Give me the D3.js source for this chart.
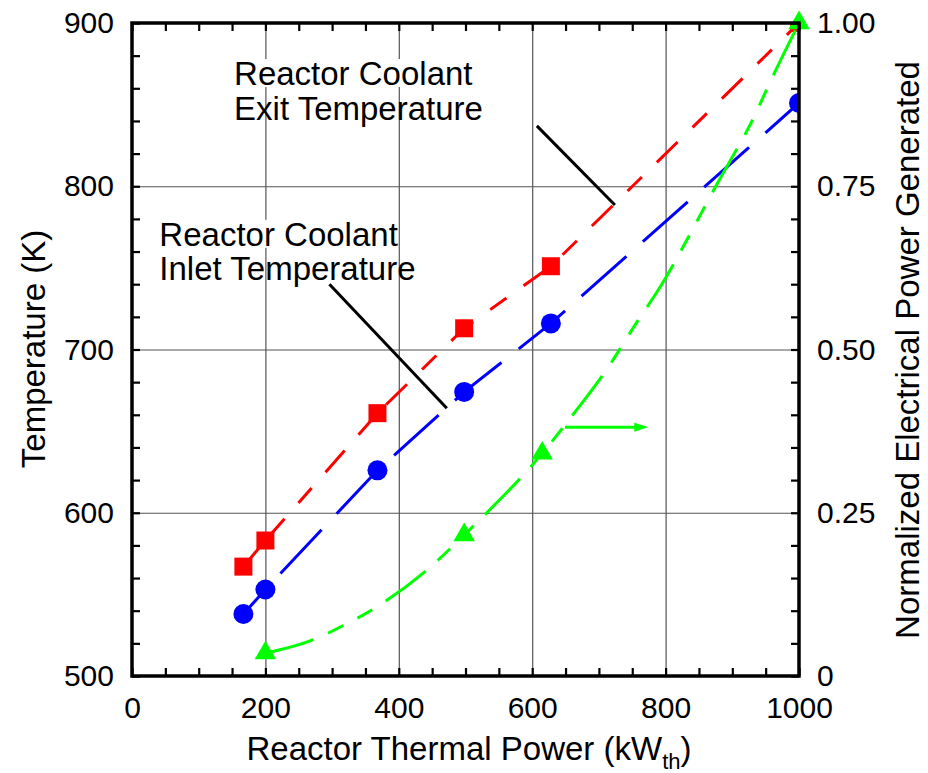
<!DOCTYPE html>
<html><head><meta charset="utf-8">
<script src="https://cdn.jsdelivr.net/npm/d3@7"></script>
<style>
body{margin:0;background:#fff}
text{font-family:"Liberation Sans",Arial,Helvetica,sans-serif;fill:#000}
</style>
</head><body>
<svg id="chart" width="928" height="773"></svg>
<script>
// ---------------- data ----------------
const exitPowerKW   = [167, 200, 368, 498, 628, 1000];
const exitTempK     = [567, 583, 661, 713, 751, 900];
const inletPowerKW  = [167, 200, 368, 498, 628, 1000];
const inletTempK    = [538, 553, 626, 674, 716, 851];
const elecPowerKW   = [200, 498, 615, 1000];
const elecNorm      = [0.035, 0.216, 0.341, 1.0];
// fitted curve of normalized electrical power
const elecCurveKW   = [200, 270, 316, 364, 454, 498, 615, 661, 714, 757, 787, 879, 930, 961, 1000];
const elecCurveNorm = [0.035, 0.055, 0.077, 0.104, 0.173, 0.216, 0.341, 0.400, 0.473, 0.542, 0.588, 0.757, 0.851, 0.919, 1.0];

const xTickValues  = [0, 200, 400, 600, 800, 1000];
const xGridValues  = [200, 400, 600, 800];
const yTickValues  = [500, 600, 700, 800, 900];
const yGridValues  = [600, 700, 800];
const y2TickValues = [0, 0.25, 0.5, 0.75, 1.0];
const y2TickLabels = ["0", "0.25", "0.50", "0.75", "1.00"];

// annotation anchors (data units)
const exitLabelLines  = ["Reactor Coolant", "Exit Temperature"];
const exitLabelPos    = [153, 862];
const exitLeader      = [[607, 837], [724, 788.5]];
const inletLabelLines = ["Reactor Coolant", "Inlet Temperature"];
const inletLabelPos   = [41, 763.5];
const inletLeader     = [[296, 740], [472, 664]];
const elecArrow       = [[649, 0.381], [774, 0.381]];

// ---------------- layout ----------------
const W = 928, H = 773;
const M = {left: 132, right: 129, top: 23, bottom: 97};
const svg = d3.select("#chart");
const x  = d3.scaleLinear().domain([0, 1000]).range([M.left, W - M.right]);
const yT = d3.scaleLinear().domain([500, 900]).range([H - M.bottom, M.top]);
const yP = d3.scaleLinear().domain([0, 1]).range([H - M.bottom, M.top]);
const pw = W - M.left - M.right, ph = H - M.top - M.bottom;

const RED = "#ff0000", BLUE = "#0000ff", GREEN = "#00ff00";
const FONT = '"Liberation Sans",Arial,sans-serif';

const defs = svg.append("defs");
defs.append("clipPath").attr("id", "plotclip")
  .append("rect").attr("x", M.left).attr("y", M.top).attr("width", pw).attr("height", ph);
defs.append("marker").attr("id", "arrowG").attr("viewBox", "0 0 14 9")
  .attr("refX", 1).attr("refY", 4.5).attr("markerUnits", "userSpaceOnUse")
  .attr("markerWidth", 14).attr("markerHeight", 9).attr("orient", "auto")
  .append("path").attr("d", "M0,0 L14,4.5 L0,9 Z").attr("fill", GREEN);

// ---------------- grid ----------------
const gx = svg.append("g").attr("transform", `translate(0,${M.top + ph})`)
  .call(d3.axisBottom(x).tickValues(xGridValues).tickSize(-ph).tickFormat(""));
const gy = svg.append("g").attr("transform", `translate(${M.left},0)`)
  .call(d3.axisLeft(yT).tickValues(yGridValues).tickSize(-pw).tickFormat(""));
[gx, gy].forEach(g => {
  g.select(".domain").remove();
  g.selectAll("line").attr("stroke", "#555").attr("stroke-width", 1.2);
});

// ---------------- annotation text (white backing on first line) ----------------
function label(lines, pos, gap) {
  const g = svg.append("g");
  const t0x = x(pos[0]), t0y = yT(pos[1]);
  lines.forEach((s, i) => {
    const t = g.append("text").attr("x", t0x).attr("y", t0y + i * gap)
      .attr("font-size", 33).text(s);
    if (i === 0) {
      const b = t.node().getBBox();
      g.insert("rect", "text").attr("x", b.x).attr("y", b.y + 4)
        .attr("width", b.width).attr("height", b.height - 9).attr("fill", "#fff");
    }
  });
}
label(exitLabelLines, exitLabelPos, 34.5);
label(inletLabelLines, inletLabelPos, 34.5);

// ---------------- lines ----------------
const plot = svg.append("g").attr("clip-path", "url(#plotclip)");
const lineT = d3.line().x(d => x(d[0])).y(d => yT(d[1]));
const lineP = d3.line().x(d => x(d[0])).y(d => yP(d[1])).curve(d3.curveMonotoneX);

const exitPts   = exitPowerKW.map((p, i) => [p, exitTempK[i]]);
const inletPts  = inletPowerKW.map((p, i) => [p, inletTempK[i]]);
const elecPts   = elecPowerKW.map((p, i) => [p, elecNorm[i]]);
const elecCurve = elecCurveKW.map((p, i) => [p, elecCurveNorm[i]]);

plot.append("path").attr("d", lineT(exitPts.slice(0, 2))).attr("fill", "none")
  .attr("stroke", RED).attr("stroke-width", 3);
plot.append("path").attr("d", lineT(exitPts.slice(1))).attr("fill", "none")
  .attr("stroke", RED).attr("stroke-width", 3).attr("stroke-dasharray", "29,21 20,21");
plot.append("path").attr("d", lineT(inletPts.slice(0, 2))).attr("fill", "none")
  .attr("stroke", BLUE).attr("stroke-width", 3);
plot.append("path").attr("d", lineT(inletPts.slice(1))).attr("fill", "none")
  .attr("stroke", BLUE).attr("stroke-width", 3).attr("stroke-dasharray", "60,22")
  .attr("stroke-dashoffset", 60);
svg.append("path").attr("d", lineP(elecCurve)).attr("fill", "none")
  .attr("stroke", GREEN).attr("stroke-width", 3).attr("stroke-dasharray", "50,16,17,16,17,16");

// ---------------- leaders / arrow ----------------
svg.append("line").attr("x1", x(exitLeader[0][0])).attr("y1", yT(exitLeader[0][1]))
  .attr("x2", x(exitLeader[1][0])).attr("y2", yT(exitLeader[1][1]))
  .attr("stroke", "#000").attr("stroke-width", 3);
svg.append("line").attr("x1", x(inletLeader[0][0])).attr("y1", yT(inletLeader[0][1]))
  .attr("x2", x(inletLeader[1][0])).attr("y2", yT(inletLeader[1][1]))
  .attr("stroke", "#000").attr("stroke-width", 3);
svg.append("line").attr("x1", x(elecArrow[0][0])).attr("y1", yP(elecArrow[0][1]))
  .attr("x2", x(elecArrow[1][0]) - 13).attr("y2", yP(elecArrow[1][1]))
  .attr("stroke", GREEN).attr("stroke-width", 3).attr("marker-end", "url(#arrowG)");

// ---------------- markers ----------------
plot.selectAll(".sq").data(exitPts).join("rect").attr("class", "sq")
  .attr("x", d => x(d[0]) - 9).attr("y", d => yT(d[1]) - 9)
  .attr("width", 18).attr("height", 18).attr("fill", RED);
plot.selectAll(".ci").data(inletPts).join("circle").attr("class", "ci")
  .attr("cx", d => x(d[0])).attr("cy", d => yT(d[1])).attr("r", 10).attr("fill", BLUE);
svg.selectAll(".tri").data(elecPts).join("path").attr("class", "tri")
  .attr("transform", d => `translate(${x(d[0])},${yP(d[1])})`)
  .attr("d", d3.symbol(d3.symbolTriangle, 200)()).attr("fill", GREEN);

// ---------------- minor ticks (inward) ----------------
function ticks(g) {
  g.select(".domain").remove();
  g.selectAll("line").attr("stroke", "#000").attr("stroke-width", 2.2);
}
svg.append("g").attr("transform", `translate(0,${M.top + ph})`)
  .call(d3.axisBottom(x).tickValues(x.ticks(20)).tickSizeInner(-8).tickSizeOuter(0).tickFormat("")).call(ticks);
svg.append("g").attr("transform", `translate(0,${M.top})`)
  .call(d3.axisTop(x).tickValues(x.ticks(20)).tickSizeInner(-8).tickSizeOuter(0).tickFormat("")).call(ticks);
svg.append("g").attr("transform", `translate(${M.left},0)`)
  .call(d3.axisLeft(yT).tickValues(yT.ticks(16)).tickSizeInner(-8).tickSizeOuter(0).tickFormat("")).call(ticks);
svg.append("g").attr("transform", `translate(${M.left + pw},0)`)
  .call(d3.axisRight(yP).tickValues(yP.ticks(20)).tickSizeInner(-8).tickSizeOuter(0).tickFormat("")).call(ticks);

// frame
svg.append("rect").attr("x", M.left).attr("y", M.top).attr("width", pw).attr("height", ph)
  .attr("fill", "none").attr("stroke", "#000").attr("stroke-width", 3.5);

// ---------------- tick labels ----------------
function lbl(g) {
  g.select(".domain").remove();
  g.selectAll("line").remove();
  g.selectAll("text").attr("font-size", 30).attr("font-family", FONT).attr("fill", "#000");
}
svg.append("g").attr("transform", `translate(0,${M.top + ph})`)
  .call(d3.axisBottom(x).tickValues(xTickValues).tickSize(0).tickPadding(21).tickFormat(d3.format("d"))).call(lbl);
svg.append("g").attr("transform", `translate(${M.left},0)`)
  .call(d3.axisLeft(yT).tickValues(yTickValues).tickSize(0).tickPadding(18).tickFormat(d3.format("d"))).call(lbl);
svg.append("g").attr("transform", `translate(${M.left + pw},0)`)
  .call(d3.axisRight(yP).tickValues(y2TickValues).tickSize(0).tickPadding(18)
    .tickFormat((d, i) => y2TickLabels[i])).call(lbl);

// ---------------- axis titles ----------------
const xt = svg.append("text").attr("x", 469).attr("y", 760)
  .attr("text-anchor", "middle").attr("font-size", 33);
xt.append("tspan").text("Reactor Thermal Power (kW");
xt.append("tspan").attr("font-size", 22).attr("dy", 9).text("th");
xt.append("tspan").attr("dy", -9).text(")");

svg.append("text").attr("transform", `translate(45,349) rotate(-90)`)
  .attr("text-anchor", "middle").attr("font-size", 33).text("Temperature (K)");
svg.append("text").attr("transform", `translate(919,350) rotate(-90)`)
  .attr("text-anchor", "middle").attr("font-size", 33).text("Normalized Electrical Power Generated");
</script>
</body></html>
